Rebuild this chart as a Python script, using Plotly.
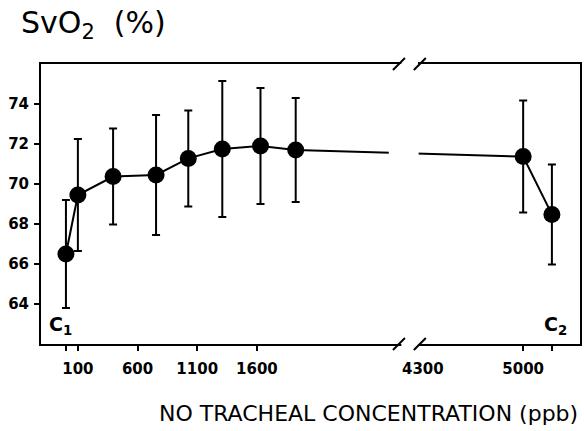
import numpy as np
import plotly.graph_objects as go

# ---------------- data ----------------
dose_ppb = [0, 100, 395, 755, 1025, 1310, 1630, 1925, 5000, 5200]
svo2_mean = [66.5, 69.45, 70.37, 70.45, 71.28, 71.75, 71.9, 71.7, 71.37, 68.48]
svo2_sd = [2.7, 2.8, 2.4, 3.0, 2.4, 3.4, 2.9, 2.6, 2.8, 2.5]

x_tick_ppb = [0, 100, 600, 1100, 1600, 5000, 5200]
x_tick_text = ["", "100", "600", "1100", "1600", "5000", ""]
break_label_ppb = 4300
control_labels = ["C<sub>1</sub>", "C<sub>2</sub>"]
y_ticks = [64, 66, 68, 70, 72, 74]

title_text = "SvO<sub>2</sub>\u00a0\u00a0(%)"
x_title_text = "NO TRACHEAL CONCENTRATION (ppb)"

# ---------------- broken-axis transform ----------------
SEG2_START = 4300      # first value of right segment
SEG2_POS = 2988        # its position on the drawn axis
SEG2_SCALE = 1.204     # right segment stretch vs left


def pos(v):
    v = np.asarray(v, dtype=float)
    return np.where(v < 3000, v, SEG2_POS + (v - SEG2_START) * SEG2_SCALE)


X_RANGE = [-209, 4307]
GAP_DATA = [2705, 2955]   # gap in the plotted line
GAP_AXIS = [2810, 2950]   # gap in frame lines
SLASHES = [2790, 2965]

FONT = "DejaVu Sans, Liberation Sans, Arial, sans-serif"

fig = go.Figure()
fig.add_trace(go.Scatter(
    x=pos(dose_ppb), y=svo2_mean,
    mode="lines+markers",
    line=dict(color="black", width=2),
    marker=dict(color="black", size=17),
    error_y=dict(type="data", array=svo2_sd, visible=True,
                 color="black", thickness=2, width=4),
    hoverinfo="skip", showlegend=False,
))

shapes = []
# mask the data line across the break
shapes.append(dict(type="rect", xref="x", yref="y", x0=GAP_DATA[0], x1=GAP_DATA[1],
                   y0=70.5, y1=72.8, fillcolor="white", line=dict(width=0), layer="above"))
# mask frame lines and draw slashes
for yanc in (0, 1):
    shapes.append(dict(type="rect", xref="x", yref="paper", x0=GAP_AXIS[0], x1=GAP_AXIS[1],
                       ysizemode="pixel", yanchor=yanc, y0=-4, y1=4,
                       fillcolor="white", line=dict(width=0), layer="above"))
    for sx in SLASHES:
        shapes.append(dict(type="line", xref="x", yref="paper",
                           xsizemode="pixel", xanchor=sx, x0=-6, x1=6,
                           ysizemode="pixel", yanchor=yanc, y0=-6, y1=6,
                           line=dict(color="black", width=2), layer="above"))

annotations = [
    dict(text=title_text, xref="paper", yref="paper", x=-0.04, y=1.0,
         xanchor="left", yanchor="bottom", yshift=18, showarrow=False,
         font=dict(family=FONT, size=30, color="black")),
    dict(text=x_title_text, xref="paper", yref="paper", x=1.0, y=0,
         xanchor="right", yanchor="middle", yshift=-69, showarrow=False,
         font=dict(family=FONT, size=22, color="black")),
    dict(text=str(break_label_ppb), xref="x", yref="paper", x=float(pos(break_label_ppb)), y=0,
         xanchor="center", yanchor="middle", yshift=-25, showarrow=False,
         font=dict(family=FONT, size=15, color="black", weight="bold")),
    dict(text="<b>%s</b>" % control_labels[0], xref="x", yref="paper", x=float(pos(dose_ppb[0])), y=0,
         xanchor="center", yanchor="bottom", yshift=4, xshift=-5, showarrow=False,
         font=dict(family=FONT, size=19, color="black")),
    dict(text="<b>%s</b>" % control_labels[1], xref="x", yref="paper", x=float(pos(dose_ppb[-1])), y=0,
         xanchor="center", yanchor="bottom", yshift=4, xshift=4, showarrow=False,
         font=dict(family=FONT, size=19, color="black")),
]

fig.update_layout(
    width=584, height=431,
    margin=dict(l=41, r=2, t=64, b=87),
    paper_bgcolor="white", plot_bgcolor="white",
    font=dict(family=FONT, color="black"),
    shapes=shapes, annotations=annotations,
    xaxis=dict(range=X_RANGE, showgrid=False, zeroline=False,
               showline=True, mirror=True, linecolor="black", linewidth=2,
               tickmode="array", tickvals=pos(x_tick_ppb).tolist(), ticktext=x_tick_text,
               ticks="outside", ticklen=5, tickwidth=2, tickcolor="black",
               ticklabelstandoff=5,
               tickfont=dict(family=FONT, size=15, color="black", weight="bold")),
    yaxis=dict(range=[62, 76], showgrid=False, zeroline=False,
               showline=True, mirror=True, linecolor="black", linewidth=2,
               tickmode="array", tickvals=y_ticks,
               ticks="outside", ticklen=5, tickwidth=2, tickcolor="black",
               ticklabelstandoff=2,
               tickfont=dict(family=FONT, size=15, color="black", weight="bold")),
)

fig.write_html("out.html")
